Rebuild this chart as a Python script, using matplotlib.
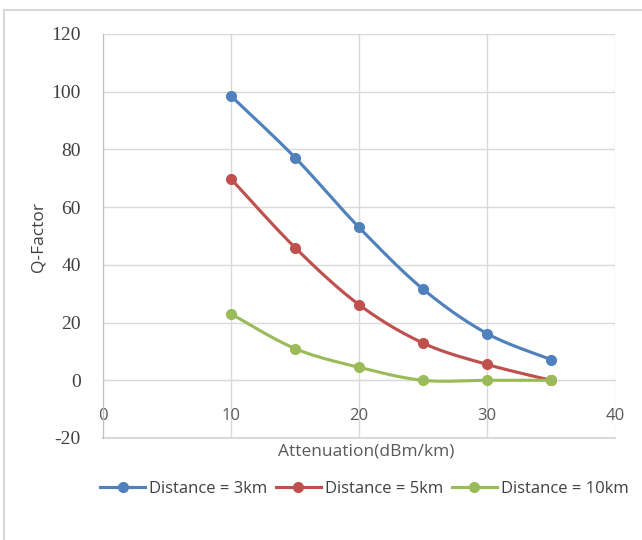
import numpy as np
import matplotlib.pyplot as plt
from matplotlib.patches import Rectangle
from matplotlib.ticker import FuncFormatter

attenuation = [10, 15, 20, 25, 30, 35]
q_3km = [98.5, 77.2, 53.0, 31.6, 16.2, 7.2]
q_5km = [69.8, 46.0, 26.2, 12.9, 5.5, 0.0]
q_10km = [23.0, 11.0, 4.5, 0.0, 0.0, 0.0]
labels = ['Distance = 3km', 'Distance = 5km', 'Distance = 10km']
colors = ['#4F81BD', '#C0504D', '#9BBB59']


def smooth(x, y, n=30):
    # catmull-rom style smoothing like excel's "smoothed line"
    x = np.asarray(x, float)
    y = np.asarray(y, float)
    px = np.concatenate([[x[0]], x, [x[-1]]])
    py = np.concatenate([[y[0]], y, [y[-1]]])
    xs, ys = [], []
    t = np.linspace(0, 1, n)
    for i in range(1, len(px) - 2):
        p0 = np.array([px[i], py[i]])
        p3 = np.array([px[i + 1], py[i + 1]])
        p1 = p0 + (np.array([px[i + 1], py[i + 1]]) - np.array([px[i - 1], py[i - 1]])) / 6
        p2 = p3 - (np.array([px[i + 2], py[i + 2]]) - np.array([px[i], py[i]])) / 6
        b = ((1 - t) ** 3)[:, None] * p0 + (3 * (1 - t) ** 2 * t)[:, None] * p1 \
            + (3 * (1 - t) * t ** 2)[:, None] * p2 + (t ** 3)[:, None] * p3
        xs.extend(b[:, 0])
        ys.extend(b[:, 1])
    return xs, ys


fig = plt.figure(figsize=(6.42, 5.4), dpi=100)
fig.patches.append(Rectangle((4 / 642, -0.01), 1.0, 1 - 10 / 540 + 0.01,
                             transform=fig.transFigure, fill=False,
                             edgecolor='#D9D9D9', linewidth=1.5))

ax = fig.add_axes([103 / 642, 102 / 540, 512 / 642, 404 / 540])

handles = []
for ys, c, lab in zip([q_3km, q_5km, q_10km], colors, labels):
    sx, sy = smooth(attenuation, ys)
    ax.plot(sx, sy, color=c, linewidth=2.25, zorder=3)
    ax.plot(attenuation, ys, 'o', color=c, markersize=7, zorder=4)
    h, = ax.plot([], [], '-o', color=c, linewidth=2.25, markersize=7, label=lab)
    handles.append(h)

ax.set_xlim(0, 40)
ax.set_ylim(-20, 120)
ax.set_xticks(np.arange(0, 41, 10))
ax.set_yticks(np.arange(-20, 121, 20))
ax.yaxis.set_major_formatter(FuncFormatter(lambda v, p: '%d' % v))
ax.grid(True, color='#D9D9D9', linewidth=1)
ax.axhline(-20, color='#D9D9D9', linewidth=1.5, clip_on=False, zorder=1)
ax.set_axisbelow(True)

for s in ['top', 'right']:
    ax.spines[s].set_visible(False)
ax.spines['bottom'].set_position(('data', 0))
ax.spines['bottom'].set_color('#D9D9D9')
ax.spines['left'].set_color('#BFBFBF')
ax.tick_params(axis='both', length=0)
ax.tick_params(axis='x', pad=20, labelsize=12, labelcolor='#595959')
ax.tick_params(axis='y', pad=16, labelsize=14, labelcolor='#404040')
for t in ax.get_xticklabels():
    t.set_fontfamily('Open Sans')
for t in ax.get_yticklabels():
    t.set_fontfamily('Liberation Serif')

fig.text(366 / 642, 1 - 452 / 540, 'Attenuation(dBm/km)', ha='center', va='center',
         fontsize=12.5, color='#595959', family='Open Sans')
fig.text(38 / 642, 1 - 237 / 540, 'Q-Factor', ha='center', va='center',
         rotation=90, fontsize=12.5, color='#404040', family='Open Sans')

fig.legend(handles=handles, loc='center left', bbox_to_anchor=(100 / 642, 1 - 489 / 540),
           ncol=3, frameon=False, handlelength=2.7, handletextpad=0.25,
           columnspacing=0.5, borderaxespad=0, borderpad=0,
           prop={'family': 'Open Sans', 'size': 12})
for t in fig.legends[0].get_texts():
    t.set_color('#404040')

fig.savefig('out.png', dpi=100)
